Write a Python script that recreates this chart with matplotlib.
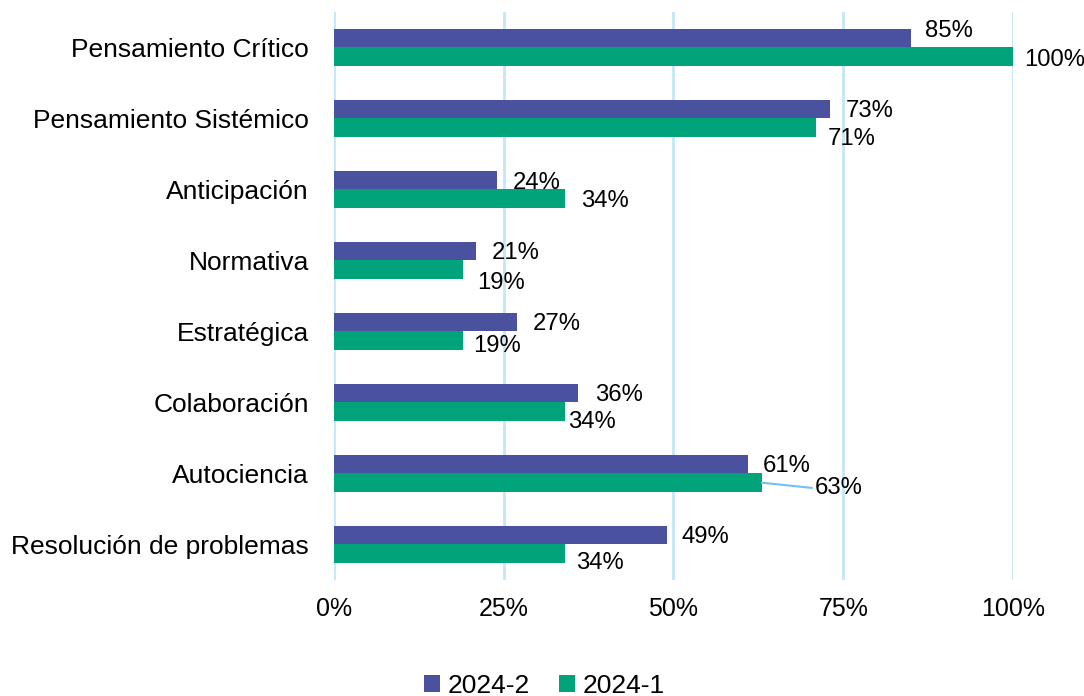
import matplotlib.pyplot as plt
import numpy as np

# Data
categories = ["Pensamiento Crítico", "Pensamiento Sistémico", "Anticipación", "Normativa",
              "Estratégica", "Colaboración", "Autociencia", "Resolución de problemas"]
vals_2024_2 = [85, 73, 24, 21, 27, 36, 61, 49]
vals_2024_1 = [100, 71, 34, 19, 19, 34, 63, 34]
x_ticks = [0, 25, 50, 75, 100]

# label nudges (pixels, as moved by hand in the original)
dx_2 = [14, 16, 16, 15, 16, 17, 15, 15]
dy_2 = [10, 1, 0, 1, 1, 1, 1, 1]
dx_1 = [11, 12, 16, 14, 10, 3, 53, 11]
dy_1 = [-1, -9, 0, -11, -3, -8, -3, -7]

blue = "#4A52A0"
green = "#00A37A"
grid_c = "#C5E6F7"

plt.rcParams["font.family"] = ["Liberation Sans", "DejaVu Sans"]
plt.rcParams["font.size"] = 18

fig = plt.figure(figsize=(10.84, 6.96), dpi=100)
ax = fig.add_axes([0.308, 0.1667, 0.6265, 0.8161])

y = np.arange(len(categories))
h = 0.26
ax.barh(y - h / 2, vals_2024_2, height=h, color=blue, label="2024-2", zorder=3)
ax.barh(y + h / 2, vals_2024_1, height=h, color=green, label="2024-1", zorder=3)

lbl_size = 17.2
for i in range(len(categories)):
    ax.annotate(f"{vals_2024_2[i]}%", (vals_2024_2[i], y[i] - h / 2),
                xytext=(dx_2[i], dy_2[i]), textcoords="offset pixels",
                ha="left", va="center_baseline", fontsize=lbl_size)
    if dx_1[i] > 40:
        ax.annotate(f"{vals_2024_1[i]}%", (vals_2024_1[i], y[i] + h / 2),
                    xytext=(dx_1[i], dy_1[i]), textcoords="offset pixels",
                    ha="left", va="center_baseline", fontsize=lbl_size,
                    arrowprops=dict(arrowstyle="-", color="#6EC3F0", lw=1.5,
                                    shrinkA=0, shrinkB=0,
                                    relpos=(0, 0.5)))
    else:
        ax.annotate(f"{vals_2024_1[i]}%", (vals_2024_1[i], y[i] + h / 2),
                    xytext=(dx_1[i], dy_1[i]), textcoords="offset pixels",
                    ha="left", va="center_baseline", fontsize=lbl_size)

ax.set_xlim(0, 100)
ax.set_ylim(len(categories) - 0.5, -0.5)
ax.set_xticks(x_ticks)
ax.set_xticklabels([f"{t}%" for t in x_ticks])
ax.set_yticks(y)
ax.set_yticklabels(categories, fontsize=19)
ax.tick_params(axis="y", length=0, pad=18)
ax.tick_params(axis="x", length=0, pad=12)
ax.grid(axis="x", color=grid_c, lw=2, zorder=0)
for s in ax.spines.values():
    s.set_visible(False)

fig.legend(loc="lower center", bbox_to_anchor=(0.502, -0.037), ncol=2, frameon=False,
           handlelength=0.6, handleheight=0.6, handletextpad=0.3, columnspacing=1.1,
           fontsize=19)

fig.savefig("out.png", dpi=100)
